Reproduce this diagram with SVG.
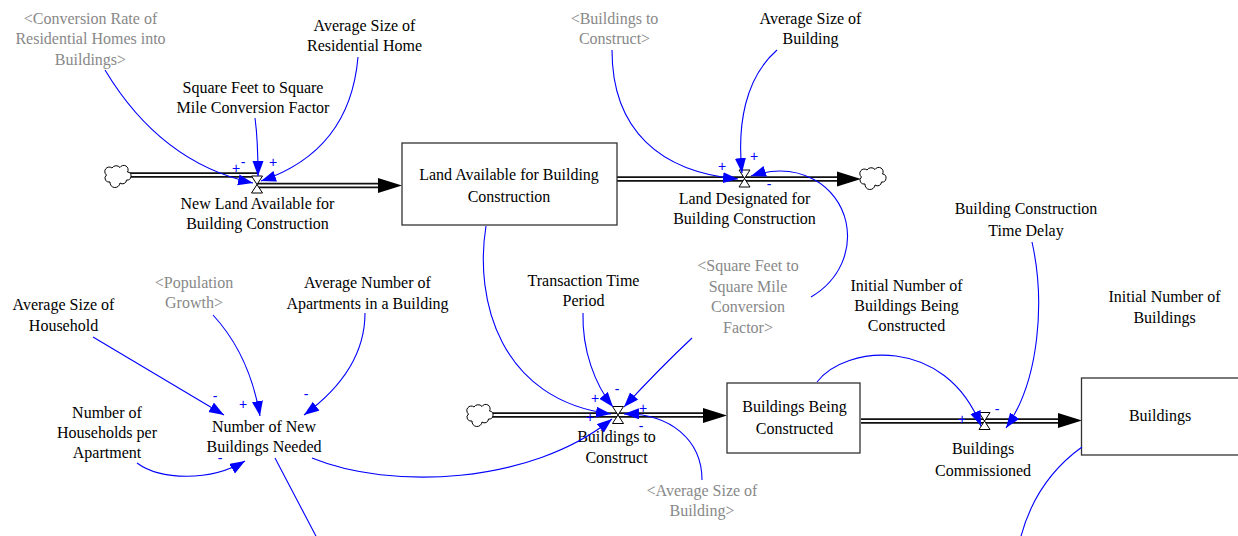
<svg xmlns="http://www.w3.org/2000/svg" width="1238" height="536" viewBox="0 0 1238 536">
  <style>
    .lbl { font-size: 16px; fill: #000; text-anchor: middle; }
    .shadow { fill: #888; }
    .sign { font-size: 14px; fill: #0000ff; text-anchor: middle; }
    .stock { fill: #fff; stroke: #333; stroke-width: 1.3; }
    .pipe-outer { fill: none; stroke: #111; stroke-width: 5.5; }
    .pipe-inner { fill: none; stroke: #fff; stroke-width: 2; }
    .head { fill: #000; }
    .valve { fill: #fff; stroke: #000; stroke-width: 1; }
    .cloud { fill: #fff; stroke: #000; stroke-width: 1; }
    .link { fill: none; stroke: #0000ff; stroke-width: 1.1; marker-end: url(#arr); }
    .link-open { fill: none; stroke: #0000ff; stroke-width: 1.1; }
  </style>
  <defs>
    <marker id="arr" markerUnits="userSpaceOnUse" markerWidth="16" markerHeight="12" refX="15" refY="5.5" orient="auto">
      <path d="M0,0 L15,5.5 L0,11 Z" fill="#0000ff"/>
    </marker>
    <path id="cloudShape" class="cloud" d="M-7,7 A4,4 0 0 1 -10.5,0 A4,4 0 0 1 -5,-7 A5,5 0 0 1 3,-7.5 A4,4 0 0 1 10.5,-3 A4,4 0 0 1 9.5,5 A4,4 0 0 1 3,8 A4.5,4.5 0 0 1 -7,7 Z"/>
    <path id="valveShape" class="valve" d="M-5.5,-8.5 H5.5 L-5.5,8.5 H5.5 Z"/>
  </defs>

  <rect width="1238" height="536" fill="#fff"/>

  <!-- flow pipes with clouds and arrowheads -->
  <g id="flows">
    <path class="pipe-outer" d="M127,175 H257"/>
    <path class="pipe-inner" d="M127,175 H257"/>
    <path class="pipe-outer" d="M257,185.5 H380"/>
    <path class="pipe-inner" d="M257,185.5 H380"/>
    <path class="head" d="M378,178 L402,185.5 L378,193 Z"/>
    <use href="#cloudShape" x="117" y="175"/>

    <path class="pipe-outer" d="M617,179 H839"/>
    <path class="pipe-inner" d="M617,179 H839"/>
    <path class="head" d="M837,171.5 L861,179 L837,186.5 Z"/>
    <use href="#cloudShape" x="872" y="177"/>

    <path class="pipe-outer" d="M490,415 H705"/>
    <path class="pipe-inner" d="M490,415 H705"/>
    <path class="head" d="M703,408 L727,415.5 L703,423 Z"/>
    <use href="#cloudShape" x="479" y="414"/>

    <path class="pipe-outer" d="M861,421 H1060"/>
    <path class="pipe-inner" d="M861,421 H1060"/>
    <path class="head" d="M1058,413 L1082,420.5 L1058,428 Z"/>
  </g>

  <g id="nodes" font-family="Liberation Serif, Times New Roman, serif">
  <!-- stocks -->
  <g id="land-available">
    <rect class="stock" x="402" y="143" width="215" height="82"/>
    <text class="lbl" x="509" y="180">Land Available for Building<tspan x="509" y="202">Construction</tspan></text>
  </g>
  <g id="buildings-being-constructed">
    <rect class="stock" x="727" y="383" width="133" height="70"/>
    <text class="lbl" x="794.5" y="412">Buildings Being<tspan x="794.5" y="434">Constructed</tspan></text>
  </g>
  <g id="buildings">
    <rect class="stock" x="1081.5" y="378" width="170" height="77"/>
    <text class="lbl" x="1160" y="421">Buildings</text>
  </g>

  <!-- rates (valves) -->
  <g id="new-land-available">
    <use href="#valveShape" x="257" y="184.5"/>
    <text class="lbl" x="257.5" y="209">New Land Available for<tspan x="257.5" y="229">Building Construction</tspan></text>
  </g>
  <g id="land-designated">
    <use href="#valveShape" x="744.5" y="178.5"/>
    <text class="lbl" x="744.5" y="204">Land Designated for<tspan x="744.5" y="224">Building Construction</tspan></text>
  </g>
  <g id="buildings-to-construct">
    <use href="#valveShape" x="618" y="415"/>
    <text class="lbl" x="616.5" y="442">Buildings to<tspan x="616.5" y="463">Construct</tspan></text>
  </g>
  <g id="buildings-commissioned">
    <use href="#valveShape" x="984.5" y="421"/>
    <text class="lbl" x="983" y="454">Buildings<tspan x="983" y="475.5">Commissioned</tspan></text>
  </g>

  <!-- auxiliaries and constants -->
  <g id="conversion-rate-shadow">
    <text class="lbl shadow" x="90.5" y="23.5">&lt;Conversion Rate of<tspan x="90.5" y="44">Residential Homes into</tspan><tspan x="90.5" y="64.5">Buildings&gt;</tspan></text>
  </g>
  <g id="avg-size-residential-home">
    <text class="lbl" x="364.5" y="30.5">Average Size of<tspan x="364.5" y="51">Residential Home</tspan></text>
  </g>
  <g id="sqft-to-sqmile">
    <text class="lbl" x="253" y="92.5">Square Feet to Square<tspan x="253" y="113">Mile Conversion Factor</tspan></text>
  </g>
  <g id="buildings-to-construct-shadow">
    <text class="lbl shadow" x="614.5" y="24">&lt;Buildings to<tspan x="614.5" y="44">Construct&gt;</tspan></text>
  </g>
  <g id="avg-size-building">
    <text class="lbl" x="810.5" y="24">Average Size of<tspan x="810.5" y="44">Building</tspan></text>
  </g>
  <g id="construction-time-delay">
    <text class="lbl" x="1026" y="214">Building Construction<tspan x="1026" y="235.5">Time Delay</tspan></text>
  </g>
  <g id="initial-being-constructed">
    <text class="lbl" x="906.5" y="290.5">Initial Number of<tspan x="906.5" y="310.5">Buildings Being</tspan><tspan x="906.5" y="330.5">Constructed</tspan></text>
  </g>
  <g id="initial-buildings">
    <text class="lbl" x="1164.5" y="302">Initial Number of<tspan x="1164.5" y="323">Buildings</tspan></text>
  </g>
  <g id="sqft-to-sqmile-shadow">
    <text class="lbl shadow" x="748" y="271">&lt;Square Feet to<tspan x="748" y="292">Square Mile</tspan><tspan x="748" y="312">Conversion</tspan><tspan x="748" y="333">Factor&gt;</tspan></text>
  </g>
  <g id="transaction-time">
    <text class="lbl" x="583.5" y="285.5">Transaction Time<tspan x="583.5" y="305.5">Period</tspan></text>
  </g>
  <g id="avg-size-household">
    <text class="lbl" x="63.5" y="309.5">Average Size of<tspan x="63.5" y="330.5">Household</tspan></text>
  </g>
  <g id="population-growth-shadow">
    <text class="lbl shadow" x="194" y="287.5">&lt;Population<tspan x="194" y="307.5">Growth&gt;</tspan></text>
  </g>
  <g id="apartments-per-building">
    <text class="lbl" x="367.5" y="287.5">Average Number of<tspan x="367.5" y="308.5">Apartments in a Building</tspan></text>
  </g>
  <g id="households-per-apartment">
    <text class="lbl" x="107" y="417.5">Number of<tspan x="107" y="437.5">Households per</tspan><tspan x="107" y="457.5">Apartment</tspan></text>
  </g>
  <g id="new-buildings-needed">
    <text class="lbl" x="264" y="432">Number of New<tspan x="264" y="452">Buildings Needed</tspan></text>
  </g>
  <g id="avg-size-building-shadow">
    <text class="lbl shadow" x="702" y="495.5">&lt;Average Size of<tspan x="702" y="515.5">Building&gt;</tspan></text>
  </g>
  </g>

  <!-- causal links -->
  <g id="connectors">
    <path class="link" d="M105,70 Q161,163 253,183"/>
    <path class="link" d="M255,118 Q258,140 258,176"/>
    <path class="link" d="M358,57 Q350,151 261,181"/>
    <path class="link" d="M612,50 C612,130 660,172 738,179"/>
    <path class="link" d="M777,50 C745,78 737,125 742,173"/>
    <path class="link" d="M811,297 C840,280 852,250 846,222 C838,186 800,160 751,176"/>
    <path class="link" d="M486,226 C474,300 500,400 611,414"/>
    <path class="link" d="M583,313 C582,350 595,385 613,407"/>
    <path class="link" d="M692,338 Q660,368 624,407"/>
    <path class="link" d="M702,480 C702,440 670,413 624,414"/>
    <path class="link" d="M312,458 C390,490 530,485 612,419"/>
    <path class="link-open" d="M275,458 L318,540"/>
    <path class="link" d="M93,337 L224,415"/>
    <path class="link" d="M213,315 Q249.5,354.5 260,416"/>
    <path class="link" d="M365,313 C365,350 345,385 304,415"/>
    <path class="link" d="M137,463 C160,480 210,482 245,461"/>
    <path class="link" d="M817,382 C845,345 945,335 981,426"/>
    <path class="link" d="M1032,242 C1045,300 1040,380 1006,428"/>
    <path class="link-open" d="M1082,447 C1050,470 1030,500 1020,540"/>
  </g>

  <!-- link polarities -->
  <g id="polarities" font-family="Liberation Sans, Arial, sans-serif">
    <text class="sign" x="236" y="173">+</text>
    <text class="sign" x="243" y="167">-</text>
    <text class="sign" x="273" y="167">+</text>
    <text class="sign" x="722" y="171">+</text>
    <text class="sign" x="754" y="161">+</text>
    <text class="sign" x="769" y="189">-</text>
    <text class="sign" x="595" y="403">+</text>
    <text class="sign" x="617" y="394">-</text>
    <text class="sign" x="590" y="422">+</text>
    <text class="sign" x="643" y="413">+</text>
    <text class="sign" x="641" y="431">-</text>
    <text class="sign" x="215" y="401">-</text>
    <text class="sign" x="243" y="409">+</text>
    <text class="sign" x="306" y="399">-</text>
    <text class="sign" x="220" y="463">-</text>
    <text class="sign" x="962" y="424">+</text>
    <text class="sign" x="997" y="414">-</text>
  </g>
</svg>
